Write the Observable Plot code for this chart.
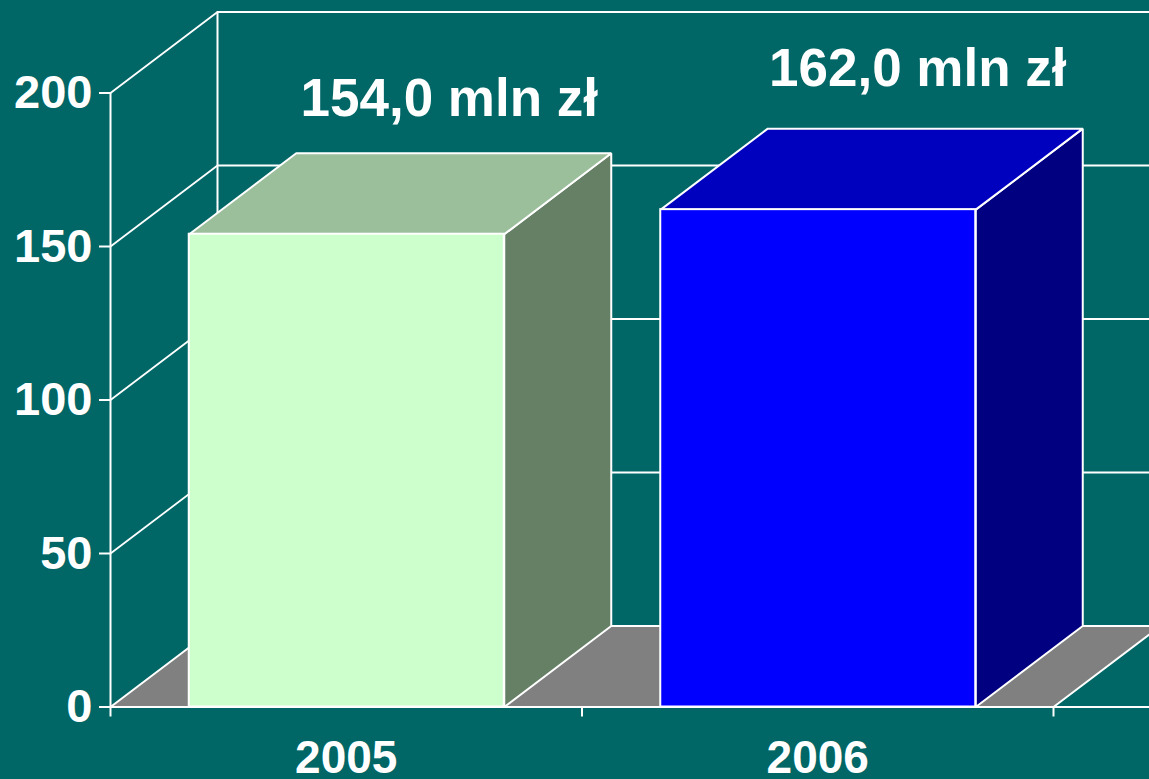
<!DOCTYPE html>
<html>
<head>
<meta charset="utf-8">
<script src="https://cdn.jsdelivr.net/npm/d3@7"></script>
<script src="https://cdn.jsdelivr.net/npm/@observablehq/plot@0.6"></script>
<style>html,body{margin:0;padding:0;background:#006666;overflow:hidden}</style>
</head>
<body>
<div id="chart"></div>
<script>
const years = ["2005", "2006"];
const values = [154, 162];
const valueLabels = ["154,0 mln zł", "162,0 mln zł"];
const yTicks = [0, 50, 100, 150, 200];
const frontColors = ["#CCFFCC", "#0000FF"];
const topColors = ["#9BBE9B", "#0000BF"];
const sideColors = ["#668066", "#000080"];

const BG = "#006666", FLOOR = "#808080", INK = "#FFFFFF";
const pxPerX = 471.5, pxPerY = 3.07;
const depthX = 107 / pxPerX, depthY = 81 / pxPerY;
const barHalf = 157.5 / pxPerX, barShift = 0.5 / pxPerX;
const n = years.length;

const poly = (id, pts) => pts.map(([x, y]) => ({id, x, y}));
const bars = years.map((year, i) => ({year, i, l: i + 0.5 + barShift - barHalf, r: i + 0.5 + barShift + barHalf, v: values[i]}));
const topFaces = bars.flatMap(b => poly(b.i, [[b.l, b.v], [b.r, b.v], [b.r + depthX, b.v + depthY], [b.l + depthX, b.v + depthY]]));
const sideFaces = bars.flatMap(b => poly(b.i, [[b.r, 0], [b.r + depthX, depthY], [b.r + depthX, b.v + depthY], [b.r, b.v]]));
const floor = poly("floor", [[0, 0], [n, 0], [n + depthX, depthY], [depthX, depthY]]);
const gridLines = yTicks.filter(v => v > 0).flatMap(v => poly(v, [[0, v], [depthX, v + depthY], [n + depthX, v + depthY]]));
const topValue = yTicks[yTicks.length - 1];
const uprights = [...poly("a", [[0, 0], [0, topValue]]), ...poly("b", [[depthX, depthY], [depthX, topValue + depthY]])];

const lineOpts = {x: "x", y: "y", z: "id", stroke: INK};
const face = (data, colors) => Plot.line(data, {
  x: "x", y: "y", z: "id", curve: "linear-closed", stroke: INK, strokeWidth: 2,
  fill: d => colors[d.id], strokeLinejoin: "miter"
});
const labelMark = (i, dx, dy) => Plot.text([bars[i]], {
  x: d => d.i + 0.5, y: "v", text: () => valueLabels[i], dx, dy,
  fontSize: 53, fontWeight: "bold", fill: INK, lineAnchor: "bottom"
});

const plot = Plot.plot({
  width: 1149, height: 779,
  marginLeft: 110, marginRight: 0, marginTop: 0, marginBottom: 72.5,
  x: {type: "linear", domain: [0, 1039 / pxPerX], axis: null},
  y: {type: "linear", domain: [0, 706.5 / pxPerY], axis: null},
  style: {background: BG, overflow: "hidden", fontFamily: "'Liberation Sans', Arial, sans-serif"},
  marks: [
    Plot.line(floor, {x: "x", y: "y", z: "id", curve: "linear-closed", fill: FLOOR, stroke: INK, strokeWidth: 2}),
    Plot.line(gridLines, {...lineOpts, strokeWidth: 1.8}),
    Plot.line(uprights, {...lineOpts, strokeWidth: 2}),
    Plot.axisY({ticks: yTicks, tickSize: 11, tickPadding: 7, color: INK, fontSize: 47, fontWeight: "bold", strokeWidth: 2, label: null, tickFormat: d => String(d)}),
    Plot.axisX({ticks: d3.range(n + 1), tickSize: 10, tickFormat: () => "", color: INK, strokeWidth: 2, label: null}),
    Plot.axisX({ticks: years.map((_, i) => i + 0.5), tickSize: 0, tickPadding: 33, tickFormat: d => years[d - 0.5], color: INK, fontSize: 46, fontWeight: "bold", label: null}),
    face(sideFaces, sideColors),
    face(topFaces, topColors),
    Plot.rect(bars, {x1: "l", x2: "r", y1: 0, y2: "v", fill: d => frontColors[d.i], stroke: INK, strokeWidth: 2}),
    Plot.ruleY([0], {stroke: INK, strokeWidth: 2}),
    labelMark(0, 103, -118),
    labelMark(1, 100, -124)
  ]
});
document.getElementById("chart").append(plot);
</script>
</body>
</html>
